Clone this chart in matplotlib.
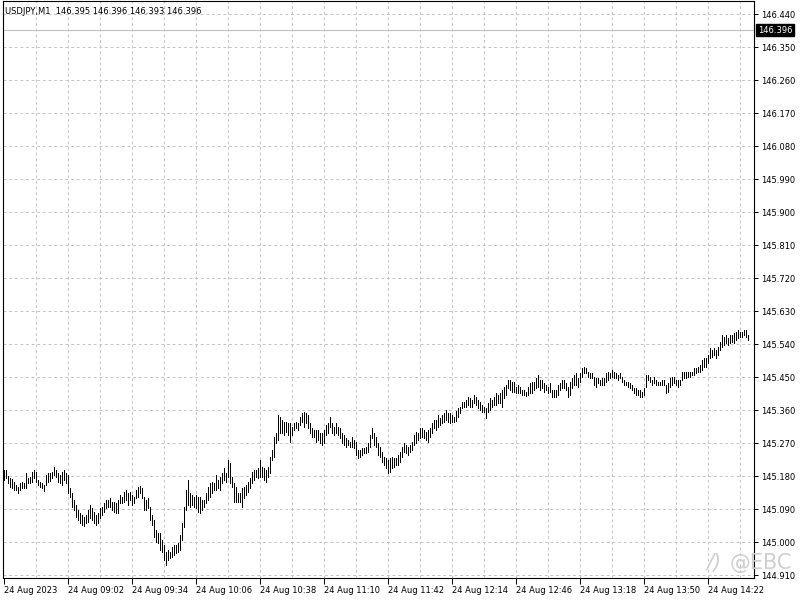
import matplotlib
matplotlib.use('Agg')
import matplotlib.pyplot as plt
import matplotlib.transforms as mtransforms
import numpy as np

# chart header / last quote
symbol = "USDJPY,M1"
last_ohlc = ["146.395", "146.396", "146.393", "146.396"]
bid_price = 146.396

# M1 bars, 24 Aug 2023 from 08:30 (high / low)
highs = [
    145.196, 145.196, 145.180, 145.174, 145.172, 145.163, 145.155, 145.150, 145.161, 145.163,
    145.161, 145.188, 145.174, 145.177, 145.191, 145.196, 145.191, 145.169, 145.163, 145.161,
    145.155, 145.183, 145.188, 145.188, 145.191, 145.204, 145.196, 145.188, 145.183, 145.191,
    145.196, 145.188, 145.183, 145.147, 145.133, 145.114, 145.101, 145.087, 145.079, 145.073,
    145.068, 145.073, 145.087, 145.101, 145.093, 145.082, 145.073, 145.079, 145.093, 145.095,
    145.106, 145.114, 145.114, 145.120, 145.109, 145.109, 145.106, 145.114, 145.128, 145.123,
    145.136, 145.142, 145.133, 145.136, 145.128, 145.123, 145.142, 145.150, 145.153, 145.147,
    145.123, 145.114, 145.120, 145.095, 145.073, 145.060, 145.033, 145.024, 145.024, 145.005,
    144.992, 144.973, 144.978, 144.973, 144.986, 144.992, 144.992, 144.997, 145.019, 145.052,
    145.095, 145.142, 145.169, 145.133, 145.128, 145.123, 145.128, 145.123, 145.123, 145.114,
    145.114, 145.133, 145.150, 145.161, 145.163, 145.161, 145.183, 145.169, 145.177, 145.188,
    145.202, 145.188, 145.223, 145.215, 145.177, 145.161, 145.150, 145.133, 145.133, 145.147,
    145.150, 145.155, 145.163, 145.174, 145.191, 145.196, 145.196, 145.202, 145.223, 145.204,
    145.202, 145.196, 145.204, 145.232, 145.251, 145.286, 145.297, 145.346, 145.341, 145.333,
    145.327, 145.327, 145.324, 145.324, 145.313, 145.324, 145.327, 145.324, 145.341, 145.352,
    145.354, 145.352, 145.346, 145.324, 145.311, 145.305, 145.305, 145.305, 145.297, 145.297,
    145.305, 145.319, 145.324, 145.341, 145.324, 145.313, 145.324, 145.313, 145.311, 145.297,
    145.292, 145.283, 145.278, 145.273, 145.286, 145.278, 145.273, 145.251, 145.251, 145.256,
    145.256, 145.259, 145.270, 145.292, 145.311, 145.297, 145.286, 145.270, 145.259, 145.245,
    145.232, 145.229, 145.223, 145.229, 145.232, 145.229, 145.229, 145.237, 145.245, 145.259,
    145.270, 145.264, 145.259, 145.264, 145.273, 145.292, 145.300, 145.297, 145.311, 145.311,
    145.305, 145.300, 145.305, 145.311, 145.324, 145.333, 145.333, 145.346, 145.338, 145.346,
    145.352, 145.360, 145.352, 145.352, 145.346, 145.341, 145.357, 145.365, 145.368, 145.382,
    145.382, 145.387, 145.395, 145.393, 145.387, 145.401, 145.395, 145.387, 145.382, 145.373,
    145.368, 145.365, 145.379, 145.393, 145.387, 145.395, 145.406, 145.401, 145.406, 145.414,
    145.423, 145.428, 145.442, 145.442, 145.436, 145.436, 145.423, 145.428, 145.423, 145.414,
    145.414, 145.409, 145.423, 145.433, 145.436, 145.436, 145.447, 145.455, 145.442, 145.442,
    145.433, 145.428, 145.423, 145.433, 145.414, 145.414, 145.414, 145.428, 145.433, 145.442,
    145.442, 145.433, 145.423, 145.436, 145.447, 145.455, 145.461, 145.447, 145.461, 145.474,
    145.477, 145.474, 145.463, 145.461, 145.461, 145.450, 145.447, 145.447, 145.442, 145.447,
    145.447, 145.461, 145.463, 145.461, 145.469, 145.463, 145.461, 145.455, 145.461, 145.450,
    145.442, 145.436, 145.436, 145.433, 145.428, 145.420, 145.420, 145.414, 145.414, 145.409,
    145.420, 145.455, 145.455, 145.450, 145.442, 145.450, 145.442, 145.436, 145.436, 145.442,
    145.442, 145.428, 145.433, 145.447, 145.450, 145.450, 145.442, 145.442, 145.442, 145.463,
    145.463, 145.463, 145.463, 145.463, 145.463, 145.474, 145.474, 145.477, 145.483, 145.496,
    145.502, 145.502, 145.510, 145.529, 145.523, 145.529, 145.523, 145.532, 145.545, 145.564,
    145.559, 145.564, 145.556, 145.564, 145.564, 145.570, 145.573, 145.578, 145.573, 145.573,
    145.578, 145.578, 145.564,
]
lows = [
    145.169, 145.174, 145.161, 145.150, 145.147, 145.142, 145.142, 145.133, 145.142, 145.147,
    145.147, 145.147, 145.161, 145.161, 145.163, 145.174, 145.163, 145.155, 145.150, 145.147,
    145.139, 145.155, 145.163, 145.166, 145.174, 145.183, 145.177, 145.163, 145.161, 145.155,
    145.169, 145.161, 145.133, 145.123, 145.095, 145.087, 145.068, 145.060, 145.052, 145.046,
    145.043, 145.052, 145.054, 145.065, 145.060, 145.052, 145.046, 145.052, 145.065, 145.073,
    145.082, 145.093, 145.095, 145.095, 145.087, 145.082, 145.079, 145.079, 145.106, 145.106,
    145.109, 145.114, 145.101, 145.114, 145.101, 145.106, 145.120, 145.123, 145.133, 145.120,
    145.087, 145.087, 145.093, 145.060, 145.046, 145.013, 145.000, 144.997, 144.978, 144.973,
    144.951, 144.937, 144.951, 144.956, 144.959, 144.964, 144.970, 144.973, 144.978, 145.005,
    145.041, 145.087, 145.101, 145.095, 145.101, 145.095, 145.093, 145.082, 145.079, 145.087,
    145.095, 145.106, 145.114, 145.123, 145.133, 145.142, 145.142, 145.147, 145.142, 145.161,
    145.169, 145.163, 145.177, 145.161, 145.150, 145.109, 145.109, 145.109, 145.109, 145.095,
    145.120, 145.128, 145.136, 145.147, 145.161, 145.169, 145.177, 145.174, 145.177, 145.177,
    145.169, 145.163, 145.177, 145.188, 145.223, 145.232, 145.270, 145.278, 145.297, 145.297,
    145.292, 145.300, 145.292, 145.273, 145.292, 145.305, 145.311, 145.305, 145.319, 145.327,
    145.313, 145.324, 145.311, 145.297, 145.286, 145.286, 145.273, 145.278, 145.270, 145.264,
    145.270, 145.292, 145.297, 145.313, 145.297, 145.292, 145.297, 145.292, 145.283, 145.270,
    145.264, 145.259, 145.264, 145.259, 145.259, 145.256, 145.237, 145.229, 145.232, 145.237,
    145.243, 145.243, 145.245, 145.259, 145.283, 145.264, 145.259, 145.237, 145.232, 145.218,
    145.210, 145.202, 145.188, 145.191, 145.202, 145.204, 145.210, 145.210, 145.218, 145.232,
    145.245, 145.243, 145.237, 145.245, 145.251, 145.264, 145.270, 145.278, 145.283, 145.286,
    145.283, 145.278, 145.273, 145.286, 145.297, 145.311, 145.305, 145.313, 145.319, 145.324,
    145.327, 145.333, 145.327, 145.324, 145.327, 145.327, 145.330, 145.341, 145.352, 145.365,
    145.368, 145.368, 145.373, 145.368, 145.368, 145.379, 145.373, 145.365, 145.360, 145.354,
    145.354, 145.338, 145.354, 145.360, 145.368, 145.373, 145.373, 145.379, 145.379, 145.368,
    145.393, 145.401, 145.420, 145.414, 145.409, 145.409, 145.406, 145.406, 145.406, 145.401,
    145.401, 145.398, 145.401, 145.406, 145.406, 145.414, 145.420, 145.423, 145.414, 145.420,
    145.409, 145.414, 145.406, 145.409, 145.395, 145.395, 145.395, 145.401, 145.414, 145.420,
    145.420, 145.414, 145.395, 145.401, 145.420, 145.428, 145.428, 145.423, 145.436, 145.450,
    145.461, 145.461, 145.450, 145.447, 145.447, 145.428, 145.423, 145.433, 145.428, 145.428,
    145.428, 145.436, 145.442, 145.447, 145.450, 145.447, 145.447, 145.442, 145.447, 145.436,
    145.428, 145.428, 145.423, 145.420, 145.414, 145.406, 145.401, 145.401, 145.395, 145.395,
    145.401, 145.423, 145.442, 145.436, 145.428, 145.433, 145.428, 145.428, 145.428, 145.428,
    145.428, 145.406, 145.409, 145.423, 145.428, 145.433, 145.428, 145.423, 145.428, 145.442,
    145.447, 145.447, 145.450, 145.450, 145.455, 145.455, 145.461, 145.463, 145.463, 145.469,
    145.477, 145.477, 145.488, 145.502, 145.504, 145.510, 145.502, 145.510, 145.523, 145.532,
    145.537, 145.543, 145.537, 145.543, 145.545, 145.543, 145.551, 145.556, 145.559, 145.559,
    145.564, 145.559, 145.551,
]

price_ticks = [144.910, 145.000, 145.090, 145.180, 145.270, 145.360, 145.450, 145.540,
               145.630, 145.720, 145.810, 145.900, 145.990, 146.080, 146.170, 146.260,
               146.350, 146.440]
time_labels = ["24 Aug 2023", "24 Aug 09:02", "24 Aug 09:34", "24 Aug 10:06",
               "24 Aug 10:38", "24 Aug 11:10", "24 Aug 11:42", "24 Aug 12:14",
               "24 Aug 12:46", "24 Aug 13:18", "24 Aug 13:50", "24 Aug 14:22"]
label_step = 32   # bars between time labels
grid_step = 16    # bars between vertical grid lines

fs = 6
grid_col = '#c4c4c4'
dash = (0, (2.9, 2.9))

fig = plt.figure(figsize=(8, 6), dpi=100)
ax = fig.add_axes([3 / 800, 22 / 600, 751 / 800, 577 / 600])

idx = np.arange(len(highs))
ax.vlines(idx, lows, highs, colors='black', linewidth=0.55, antialiased=False, zorder=3)

ax.set_xlim(-0.25, 375.25)
ax.set_ylim(144.902, 146.4755)

# grid
for p in price_ticks:
    ax.axhline(p, color=grid_col, lw=0.7, ls=dash, zorder=0)
for g in range(grid_step, 376, grid_step):
    ax.axvline(g, color=grid_col, lw=0.7, ls=dash, zorder=0)

# current price line
ax.axhline(bid_price, color='#c0c0c0', lw=0.8, zorder=1)

# axes
ax.yaxis.tick_right()
ax.set_yticks(price_ticks)
ax.set_yticklabels([f"{p:.3f}" for p in price_ticks])
ax.tick_params(axis='y', direction='out', length=3, width=0.7, pad=2, labelsize=fs)

xt = list(range(0, len(time_labels) * label_step, label_step))
ax.set_xticks(xt)
ax.set_xticklabels(time_labels)
ax.tick_params(axis='x', direction='out', length=4, width=0.7, pad=1.5, labelsize=fs)
for lab in ax.get_xticklabels():
    lab.set_ha('left')

for s in ax.spines.values():
    s.set_color('black')
    s.set_linewidth(0.8)

# bid price marker on the scale
trans = mtransforms.blended_transform_factory(ax.transAxes, ax.transData)
ax.text(1 + 4 / 751, bid_price, f"{bid_price:.3f}", transform=trans, ha='left', va='center',
        fontsize=fs, color='white', zorder=5, clip_on=False,
        bbox=dict(facecolor='black', edgecolor='black', pad=1.2))

# header
fig.text(5 / 800, 1 - 11 / 600, symbol + "  " + " ".join(last_ohlc), fontsize=fs,
         ha='left', va='center', color='black')

# watermark
fig.text(792 / 800, 1 - 563 / 600, "@EBC", fontsize=15, color='#cfcfcf',
         ha='right', va='center', zorder=10)
fig.text(714 / 800, 1 - 563 / 600, "/)", fontsize=15, color='#cfcfcf', style='italic',
         ha='center', va='center', zorder=10)

fig.savefig("out.png", dpi=100)
